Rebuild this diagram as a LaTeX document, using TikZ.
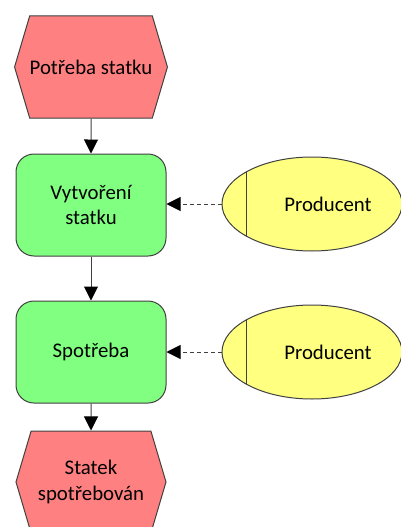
\documentclass[tikz,border=0pt]{standalone}
\usepackage{fontspec}
\setmainfont{Carlito}
\usetikzlibrary{shapes.geometric,shapes.symbols,arrows.meta}
\definecolor{evred}{HTML}{FF8080}
\definecolor{fngreen}{HTML}{80FF80}
\definecolor{unyellow}{HTML}{FFFF80}
\definecolor{edge}{HTML}{404040}
\begin{document}
\begin{tikzpicture}[x=1pt,y=1pt,
  font=\fontsize{20.8}{25.4}\selectfont,
  outline/.style={draw=edge, line width=1pt},
  event/.style={outline, shape=signal, signal to=east and west,
    signal pointer angle=147, fill=evred, minimum width=150pt,
    minimum height=102pt, inner sep=0pt, align=center},
  func/.style={outline, rectangle, rounded corners=18pt, fill=fngreen,
    minimum width=150pt, minimum height=102pt, align=center},
  unit/.style={outline, ellipse, fill=unyellow, minimum width=180pt,
    minimum height=94pt, inner sep=0pt,
    path picture={\draw[edge, line width=1pt]
      ([xshift=24pt]path picture bounding box.south west) --
      ([xshift=24pt]path picture bounding box.north west);}},
  flow/.style={draw=edge, line width=1pt,
    -{Triangle[length=14pt,width=14pt,fill=black,color=black]}},
  assign/.style={flow, dash pattern=on 4pt off 3pt}
]
\useasboundingbox (0,0) rectangle (401,-527);
\clip (0,0) rectangle (401,-527);

% process chain
\node[event] (need) at (91,-67) {Potřeba statku};
\node[func]  (make) at (91,-205) {Vytvoření\\statku};
\node[func]  (use)  at (91,-352) {Spotřeba};
\node[event] (done) at (91,-482) {Statek\\spotřebován};

% organisational units
\node[unit] (prod1) at (312,-204) {\hspace*{32pt}Producent};
\node[unit] (prod2) at (312,-352) {\hspace*{32pt}Producent};

% control flow
\draw[flow] (need) -- (make);
\draw[flow] (make) -- (use);
\draw[flow] (use) -- (done);

% responsibilities
\draw[assign] (prod1.west) -- (make.east |- prod1.west);
\draw[assign] (prod2.west) -- (use.east |- prod2.west);
\end{tikzpicture}
\end{document}
